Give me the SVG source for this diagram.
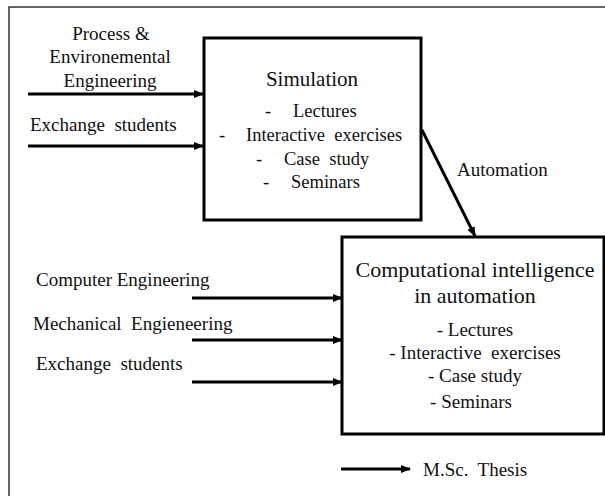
<svg xmlns="http://www.w3.org/2000/svg" width="605" height="496" viewBox="0 0 605 496">
<style>
text{font-family:"Liberation Serif","Times New Roman",serif;fill:#111;font-size:19px}
.box{fill:none;stroke:#000;stroke-width:3}
.conn{stroke:#000;stroke-width:3;fill:none;marker-end:url(#ah)}
.t21{font-size:21px}
.t22{font-size:22px}
.t18{font-size:18.5px}
.mid{text-anchor:middle}
</style>
<defs>
<marker id="ah" markerUnits="userSpaceOnUse" markerWidth="10" markerHeight="8" refX="9" refY="4" orient="auto">
<path d="M0,0 L10,4 L0,8 Z" fill="#000"/>
</marker>
</defs>
<rect x="9" y="7" width="610" height="500" fill="none" stroke="#333" stroke-width="1.5"/>
<g id="connectors">
<line class="conn" x1="28" y1="94" x2="203" y2="94"/>
<line class="conn" x1="28" y1="146" x2="203" y2="146"/>
<line class="conn" x1="422" y1="130" x2="475" y2="236"/>
<line class="conn" x1="192" y1="298" x2="342" y2="298"/>
<line class="conn" x1="192" y1="340" x2="342" y2="340"/>
<line class="conn" x1="192" y1="382" x2="342" y2="382"/>
<line class="conn" x1="341" y1="469" x2="410" y2="469"/>
</g>
<g id="label-pee">
<text x="111" y="40" class="mid">Process &amp;</text>
<text x="110" y="63" class="mid">Environemental</text>
<text x="110" y="87" class="mid">Engineering</text>
</g>
<g id="label-exchange1"><text x="30" y="131" xml:space="preserve">Exchange  students</text></g>
<g id="simulation">
<rect class="box" x="204" y="38" width="217" height="182"/>
<text x="312" y="86" class="t21 mid">Simulation</text>
<text x="265" y="117" class="t18">-</text><text x="293" y="117" class="t18">Lectures</text>
<text x="219" y="141" class="t18">-</text><text x="246" y="141" class="t18" xml:space="preserve">Interactive  exercises</text>
<text x="256" y="165" class="t18">-</text><text x="284" y="165" class="t18" xml:space="preserve">Case  study</text>
<text x="263" y="188" class="t18">-</text><text x="291" y="188" class="t18">Seminars</text>
</g>
<g id="label-automation"><text x="457" y="176">Automation</text></g>
<g id="label-computer"><text x="36" y="286">Computer Engineering</text></g>
<g id="label-mechanical"><text x="33" y="330" xml:space="preserve">Mechanical  Engieneering</text></g>
<g id="label-exchange2"><text x="36" y="370" xml:space="preserve">Exchange  students</text></g>
<g id="computational">
<rect class="box" x="342" y="237" width="262" height="197"/>
<text x="475" y="277" class="t22 mid">Computational intelligence</text>
<text x="475" y="303" class="t22 mid">in automation</text>
<text x="475" y="336" class="mid">- Lectures</text>
<text x="475" y="359" class="mid" xml:space="preserve">- Interactive  exercises</text>
<text x="475" y="382" class="mid">- Case study</text>
<text x="471" y="408" class="mid">- Seminars</text>
</g>
<g id="thesis"><text x="423" y="476" xml:space="preserve">M.Sc.  Thesis</text></g>
</svg>
